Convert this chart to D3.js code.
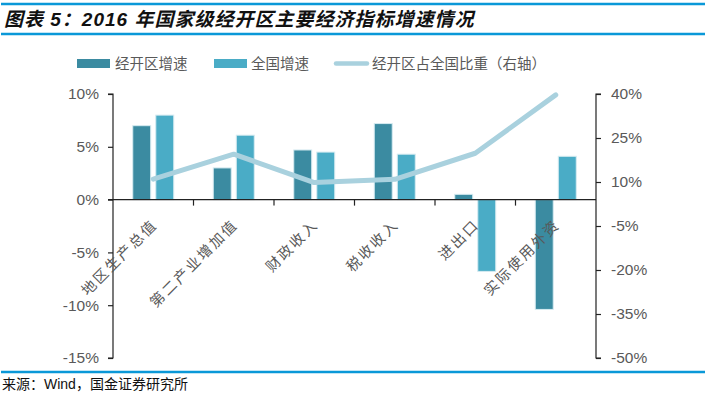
<!DOCTYPE html>
<html>
<head>
<meta charset="utf-8">
<script src="https://cdn.jsdelivr.net/npm/d3@7"></script>
<style>
  body { margin: 0; background: #fff; }
  text { font-family: "Liberation Sans", Arial, "Noto Sans CJK SC", sans-serif; }
</style>
</head>
<body>
<div id="chart"></div>
<script>
var categories = ["地区生产总值", "第二产业增加值", "财政收入", "税收收入", "进出口", "实际使用外资"];
var zoneGrowth = [7.0, 3.0, 4.7, 7.2, 0.5, -10.4];
var nationalGrowth = [8.0, 6.1, 4.5, 4.3, -6.8, 4.1];
var zoneShare = [11.0, 19.5, 9.8, 10.9, 19.8, 39.7];
var leftTicks = [-15, -10, -5, 0, 5, 10];
var rightTicks = [-50, -35, -20, -5, 10, 25, 40];
var seriesNames = ["经开区增速", "全国增速", "经开区占全国比重（右轴）"];

var W = 707, H = 396;
var colDark = "#3b8ba1", colLight = "#4aacc6", colLine = "#a9d1de", blue = "#0a98d8";
var textCol = "#595959";

var svg = d3.select("#chart").append("svg")
    .attr("width", W)
    .attr("height", H);

// title block
svg.append("line").attr("x1", 1).attr("x2", 705).attr("y1", 4).attr("y2", 4)
    .attr("stroke", blue).attr("stroke-width", 2.5);
svg.append("line").attr("x1", 1).attr("x2", 705).attr("y1", 34).attr("y2", 34)
    .attr("stroke", blue).attr("stroke-width", 2.5);
svg.append("text")
    .attr("x", 4).attr("y", 26)
    .style("font-size", "19px").style("font-weight", "bold").style("font-style", "italic")
    .style("letter-spacing", "1px")
    .attr("fill", "#111")
    .text("图表 5：2016 年国家级经开区主要经济指标增速情况");

// scales
var x = d3.scaleBand().domain(categories).range([113, 596]);
var bw = x.bandwidth();
var x1 = d3.scaleBand().domain([0, 1]).range([bw / 2 - 20.5, bw / 2 + 20.5]).paddingInner(0.22);
var yL = d3.scaleLinear().domain([-15, 10]).range([358, 94]);
var yR = d3.scaleLinear().domain([-50, 40]).range([358, 94]);

// axes
var gL = svg.append("g")
    .attr("transform", "translate(113,0)")
    .call(d3.axisLeft(yL).tickValues(leftTicks).tickSize(5).tickPadding(9)
      .tickFormat(function(d) { return d + "%"; }));
var gR = svg.append("g")
    .attr("transform", "translate(596,0)")
    .call(d3.axisRight(yR).tickValues(rightTicks).tickSize(5).tickPadding(10)
      .tickFormat(function(d) { return d + "%"; }));
[gL, gR].forEach(function(g) {
  g.selectAll("path.domain, line").attr("stroke", "#222").attr("stroke-width", 1.2);
  g.selectAll("text").style("font-size", "15.5px").attr("fill", textCol);
});
gL.select("path.domain").attr("d", "M-5,94H0V358H-5");
gR.select("path.domain").attr("d", "M5,94H0V358H5");

// bars
var groups = svg.append("g").selectAll("g")
  .data(categories)
  .enter().append("g")
    .attr("transform", function(d) { return "translate(" + x(d) + ",0)"; });

groups.selectAll("rect")
  .data(function(d, i) { return [zoneGrowth[i], nationalGrowth[i]]; })
  .enter().append("rect")
    .attr("x", function(d, j) { return x1(j); })
    .attr("width", x1.bandwidth())
    .attr("y", function(d) { return yL(Math.max(0, d)); })
    .attr("height", function(d) { return Math.abs(yL(d) - yL(0)); })
    .attr("fill", function(d, j) { return j == 0 ? colDark : colLight; })
    .attr("stroke", "#d6ebf1")
    .attr("stroke-width", 1);

// x axis at zero
var y0 = yL(0);
svg.append("line").attr("x1", 108).attr("x2", 596).attr("y1", y0).attr("y2", y0)
    .attr("stroke", "#222").attr("stroke-width", 1.2);
svg.append("g").selectAll("line")
  .data(categories.slice(1))
  .enter().append("line")
    .attr("x1", function(d) { return x(d); })
    .attr("x2", function(d) { return x(d); })
    .attr("y1", y0).attr("y2", y0 + 6)
    .attr("stroke", "#222").attr("stroke-width", 1.2);

// share line
var line = d3.line()
    .x(function(d, i) { return x(categories[i]) + bw / 2; })
    .y(function(d) { return yR(d); });
svg.append("path")
    .datum(zoneShare)
    .attr("d", line)
    .attr("fill", "none")
    .attr("stroke", colLine)
    .attr("stroke-width", 5)
    .attr("stroke-linecap", "round")
    .attr("stroke-linejoin", "round");

// category labels
svg.append("g").selectAll("text")
  .data(categories)
  .enter().append("text")
    .attr("transform", function(d) {
      return "translate(" + (x(d) + bw / 2 + 5) + "," + (y0 + 26) + ") rotate(-45)";
    })
    .attr("text-anchor", "end")
    .style("font-size", "14.5px")
    .style("letter-spacing", "2.2px")
    .attr("fill", textCol)
    .text(function(d) { return d; });

// legend
var legend = svg.append("g");
legend.append("rect").attr("x", 77).attr("y", 59).attr("width", 33).attr("height", 9).attr("fill", colDark);
legend.append("text").attr("x", 115).attr("y", 69).text(seriesNames[0]);
legend.append("rect").attr("x", 214).attr("y", 59).attr("width", 33).attr("height", 9).attr("fill", colLight);
legend.append("text").attr("x", 251).attr("y", 69).text(seriesNames[1]);
legend.append("line").attr("x1", 336).attr("x2", 367).attr("y1", 63.5).attr("y2", 63.5)
    .attr("stroke", colLine).attr("stroke-width", 4.5).attr("stroke-linecap", "round");
legend.append("text").attr("x", 372).attr("y", 69).text(seriesNames[2]);
legend.selectAll("text").style("font-size", "14.5px").attr("fill", textCol);

// footer
svg.append("line").attr("x1", 1).attr("x2", 705).attr("y1", 372).attr("y2", 372)
    .attr("stroke", blue).attr("stroke-width", 2.5);
svg.append("text")
    .attr("x", 2).attr("y", 389)
    .style("font-size", "14px")
    .attr("fill", "#111")
    .text("来源：Wind，国金证券研究所");
</script>
</body>
</html>
